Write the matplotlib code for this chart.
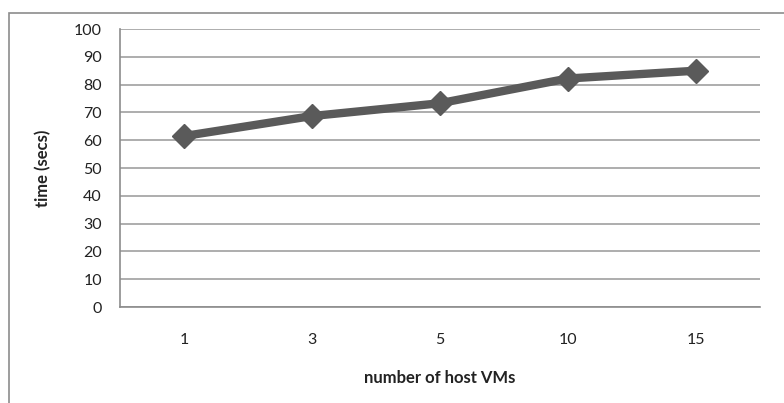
import matplotlib.pyplot as plt
from matplotlib.patches import Rectangle

plt.rcParams['font.family'] = ['Lato', 'DejaVu Sans']

hosts = ["1", "3", "5", "10", "15"]
times = [61.5, 68.7, 73.3, 82.2, 85.0]

fig = plt.figure(figsize=(7.84, 4.03), dpi=100)
ax = fig.add_axes([0.153, 0.238, 0.816, 0.690])

# outer chart border (cropped at right/bottom like the original)
fig.patches.append(Rectangle((9 / 784, -0.05), 1.2, (403 - 13) / 403 + 0.05,
                             transform=fig.transFigure, fill=False,
                             edgecolor="#8c8c8c", lw=1.2))

x = range(1, len(hosts) + 1)
ax.plot(x, times, color="#5a5a5a", lw=6, marker="D", markersize=12,
        markerfacecolor="#5a5a5a", markeredgecolor="#5a5a5a", solid_joinstyle="round")

ax.set_xlim(0.5, len(hosts) + 0.5)
ax.set_ylim(0, 100)
ax.set_yticks(range(0, 101, 10))
ax.set_xticks(list(x))
ax.set_xticklabels(hosts)
ax.yaxis.grid(True, color="#a0a0a0", lw=1.2)
ax.set_axisbelow(True)

for side in ["top", "right"]:
    ax.spines[side].set_visible(False)
for side in ["left", "bottom"]:
    ax.spines[side].set_color("#8c8c8c")
    ax.spines[side].set_linewidth(1.2)

ax.tick_params(length=0, labelsize=11.5, colors="#222222", pad=13)
ax.tick_params(axis="x", pad=19)

ax.set_ylabel("time (secs)", fontsize=12, fontweight="bold", color="#222222", labelpad=16)
ax.set_xlabel("number of host VMs", fontsize=12, fontweight="bold", color="#222222", labelpad=16)

fig.savefig("out.png", dpi=100)
